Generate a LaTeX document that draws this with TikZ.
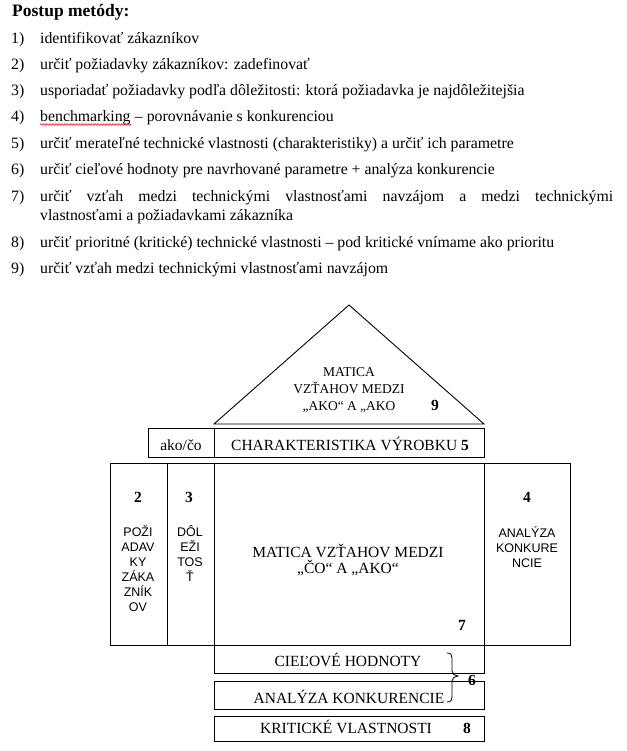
\documentclass[tikz,border=0pt]{standalone}
\usepackage{fontspec}
\setmainfont{Liberation Serif}
\newfontfamily\arialf{Liberation Sans}
\usetikzlibrary{decorations.pathmorphing}
\begin{document}
\begin{tikzpicture}[x=1pt,y=-1pt,
  lst/.style={anchor=base west, inner sep=0pt, font=\fontsize{15.8}{18}\selectfont},
  ttl/.style={anchor=base west, inner sep=0pt, font=\fontsize{17.5}{20}\selectfont\bfseries},
  box/.style={draw, line width=0.9pt, inner sep=0pt, anchor=north west},
  tx/.style={anchor=base, inner sep=0pt, font=\fontsize{15.5}{18}\selectfont},
  trx/.style={anchor=base, inner sep=0pt, align=center, font=\fontsize{13.5}{17}\selectfont},
  sf/.style={anchor=base, inner sep=0pt, align=center, font=\arialf\fontsize{12.5}{15}\selectfont},
  num/.style={anchor=base, inner sep=0pt, font=\fontsize{15.5}{18}\selectfont\bfseries},
  ln/.style={line width=0.9pt}]
\useasboundingbox[fill=white] (0,0) rectangle (626,751);

% ---- list ----
\node[ttl] (title) at (12,17) {Postup metódy:};
\node[lst] (n1) at (11,44) {1)};
\node[lst] (t1) at (40,44) {identifikovať zákazníkov};
\node[lst] (n2) at (11,70) {2)};
\node[lst] (t2) at (40,70) {určiť požiadavky zákazníkov: zadefinovať};
\node[lst] (n3) at (11,96) {3)};
\node[lst] (t3) at (40,96) {usporiadať požiadavky podľa dôležitosti: ktorá požiadavka je najdôležitejšia};
\node[lst] (n4) at (11,122) {4)};
\node[lst] (t4a) at (40,122) {benchmarking};
\node[lst] (t4b) at (t4a.base east) {\ – porovnávanie s konkurenciou};
\draw[red, line width=0.6pt, decorate, decoration={snake, amplitude=0.8pt, segment length=3pt}]
  ([yshift=-2.5pt]t4a.base west) -- ([yshift=-2.5pt]t4a.base east);
\node[lst] (n5) at (11,149) {5)};
\node[lst] (t5) at (40,149) {určiť merateľné technické vlastnosti (charakteristiky) a určiť ich parametre};
\node[lst] (n6) at (11,175) {6)};
\node[lst] (t6) at (40,175) {určiť cieľové hodnoty pre navrhované parametre + analýza konkurencie};
\node[lst] (n7) at (11,202) {7)};
\node[lst] (t7a) at (40,202) {\makebox[573pt][s]{určiť vzťah medzi technickými vlastnosťami navzájom a medzi technickými}};
\node[lst] (t7b) at (40,220) {vlastnosťami a požiadavkami zákazníka};
\node[lst] (n8) at (11,247) {8)};
\node[lst] (t8) at (40,247) {určiť prioritné (kritické) technické vlastnosti – pod kritické vnímame ako prioritu};
\node[lst] (n9) at (11,273) {9)};
\node[lst] (t9) at (40,273) {určiť vzťah medzi technickými vlastnosťami navzájom};

% ---- roof ----
\coordinate (apex) at (349,305);
\coordinate (bl) at (214,424);
\coordinate (br) at (484,424);
\draw[ln] (bl) -- (apex) -- (br) -- cycle;
\node[trx] (roof) at (349,410) {MATICA\\VZŤAHOV MEDZI\\„AKO“ A „AKO};
\node[num] (k9) at (435,410) {9};

% ---- header row ----
\node[box, minimum width=66pt, minimum height=29pt] (akoco) at (148,428) {};
\node[box, minimum width=270pt, minimum height=29pt] (char) at (214,428) {};
\node[tx] (akocot) at (181,450) {ako/čo};
\node[tx] (chart) at (350,450) {CHARAKTERISTIKA VÝROBKU \textbf{5}};

% ---- main body ----
\node[box, minimum width=57pt, minimum height=182pt] (c1) at (110,463) {};
\node[box, minimum width=47pt, minimum height=182pt] (c2) at (167,463) {};
\node[box, minimum width=270pt, minimum height=182pt] (c3) at (214,463) {};
\node[box, minimum width=86pt, minimum height=182pt] (c4) at (484,463) {};

\node[num] (k2) at (138,502) {2};
\node[sf] (c1t) at (138,611) {POŽI\\ADAV\\KY\\ZÁKA\\ZNÍK\\OV};
\node[num] (k3) at (189,502) {3};
\node[sf] (c2t) at (190,581) {DÔL\\EŽI\\TOS\\Ť};
\node[tx, align=center, font=\fontsize{15.5}{16}\selectfont] (c3t) at (348,573) {MATICA VZŤAHOV MEDZI\\„ČO“ A „AKO“};
\node[num] (k7) at (462,630) {7};
\node[num] (k4) at (527,502) {4};
\node[sf] (c4t) at (527,567) {ANALÝZA\\KONKURE\\NCIE};

% ---- bottom rows ----
\node[box, minimum width=270pt, minimum height=28pt] (cil) at (214,645) {};
\node[tx] (cilt) at (348,666) {CIEĽOVÉ HODNOTY};
\node[box, minimum width=270pt, minimum height=28pt] (ana) at (214,681) {};
\node[tx] (anat) at (349,703) {ANALÝZA KONKURENCIE};
\node[box, minimum width=270pt, minimum height=25pt] (krit) at (214,716) {};
\node[tx] (kritt) at (346,733) {KRITICKÉ VLASTNOSTI};
\node[num] (k8) at (467,733) {8};

% ---- brace ----
\draw[line width=0.8pt] (447,653) .. controls (451,653) and (452,655) .. (452,658) -- (452,671)
  .. controls (452,674) and (454,675) .. (458,676)
  .. controls (454,677) and (452,678) .. (452,681) -- (452,697)
  .. controls (452,700) and (451,702) .. (447,702);
\node[num] (k6) at (472,685) {6};
\end{tikzpicture}
\end{document}
